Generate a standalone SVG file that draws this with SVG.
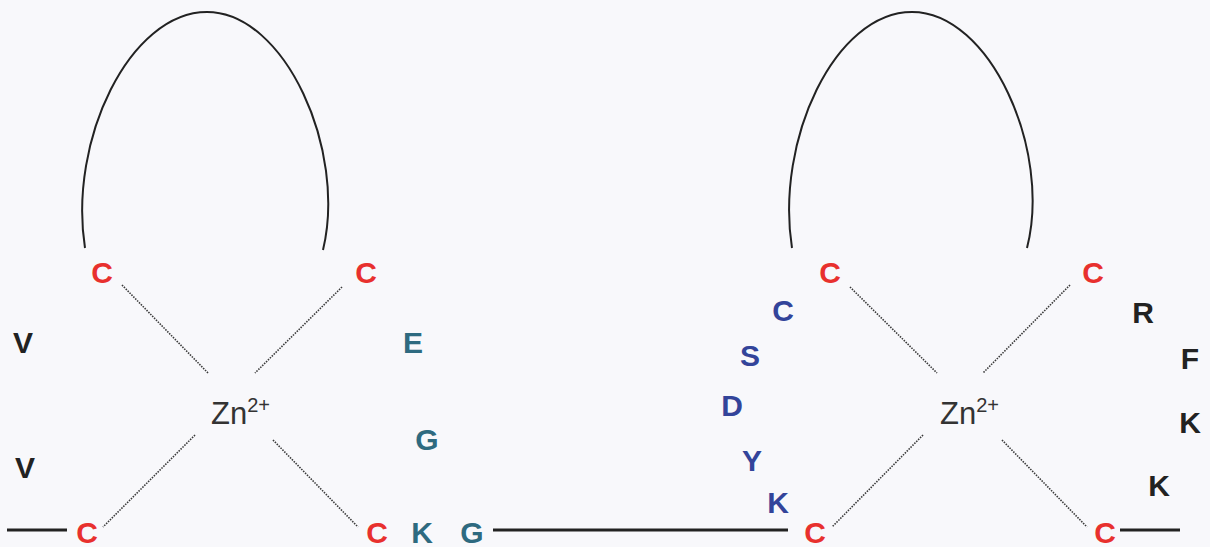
<svg xmlns="http://www.w3.org/2000/svg" width="1210" height="547" viewBox="0 0 1210 547">
<style>
text{font-family:"Liberation Sans",Arial,sans-serif;font-weight:bold;font-size:30px;text-anchor:middle}
.cys{fill:#e8302e}
.teal{fill:#2e6a80}
.blue{fill:#33449a}
.blk{fill:#222}
.zn{fill:#333;font-weight:normal;font-size:31px;text-anchor:start}
.zn tspan{font-size:20px}
.loop{fill:none;stroke:#222;stroke-width:2}
.bb{fill:none;stroke:#222;stroke-width:3}
.coord{fill:none;stroke:#3a3a3a;stroke-width:1.6;stroke-dasharray:1.5 1.2}
</style>
<rect width="1210" height="547" fill="#f8f8fb"/>
<g id="connectors">
<path class="loop" d="M85,248 C68,140 130,12 207,12 C285,12 347,150 323,250"/>
<path class="loop" d="M792,248 C775,140 835,12 912,12 C990,12 1052,150 1027,248"/>
<line class="bb" x1="7" y1="530" x2="67" y2="530"/>
<line class="bb" x1="493" y1="530" x2="788" y2="530"/>
<line class="bb" x1="1120" y1="530" x2="1180" y2="530"/>
<line class="coord" x1="122" y1="285" x2="208" y2="373"/>
<line class="coord" x1="342" y1="287" x2="255" y2="373"/>
<line class="coord" x1="195" y1="435" x2="103" y2="527"/>
<line class="coord" x1="273" y1="440" x2="358" y2="527"/>
<line class="coord" x1="850" y1="287" x2="937" y2="373"/>
<line class="coord" x1="1070" y1="285" x2="983" y2="373"/>
<line class="coord" x1="923" y1="435" x2="832" y2="527"/>
<line class="coord" x1="1002" y1="440" x2="1087" y2="527"/>
</g>
<g id="zn1"><text class="zn" x="211" y="424">Zn<tspan dy="-12">2+</tspan></text></g>
<g id="zn2"><text class="zn" x="940" y="424">Zn<tspan dy="-12">2+</tspan></text></g>
<g id="left-cys">
<text class="cys" x="102" y="283">C</text>
<text class="cys" x="366" y="283">C</text>
<text class="cys" x="87" y="543">C</text>
<text class="cys" x="377" y="543">C</text>
</g>
<g id="left-res">
<text class="blk" x="23" y="353">V</text>
<text class="blk" x="25" y="478">V</text>
<text class="teal" x="413" y="353">E</text>
<text class="teal" x="427" y="450">G</text>
<text class="teal" x="422" y="543">K</text>
<text class="teal" x="472" y="543">G</text>
</g>
<g id="right-cys">
<text class="cys" x="830" y="283">C</text>
<text class="cys" x="1093" y="283">C</text>
<text class="cys" x="815" y="543">C</text>
<text class="cys" x="1105" y="543">C</text>
</g>
<g id="right-res">
<text class="blue" x="783" y="321">C</text>
<text class="blue" x="750" y="366">S</text>
<text class="blue" x="732" y="416">D</text>
<text class="blue" x="752" y="471">Y</text>
<text class="blue" x="778" y="513">K</text>
<text class="blk" x="1143" y="323">R</text>
<text class="blk" x="1190" y="369">F</text>
<text class="blk" x="1190" y="433">K</text>
<text class="blk" x="1159" y="496">K</text>
</g>
</svg>
